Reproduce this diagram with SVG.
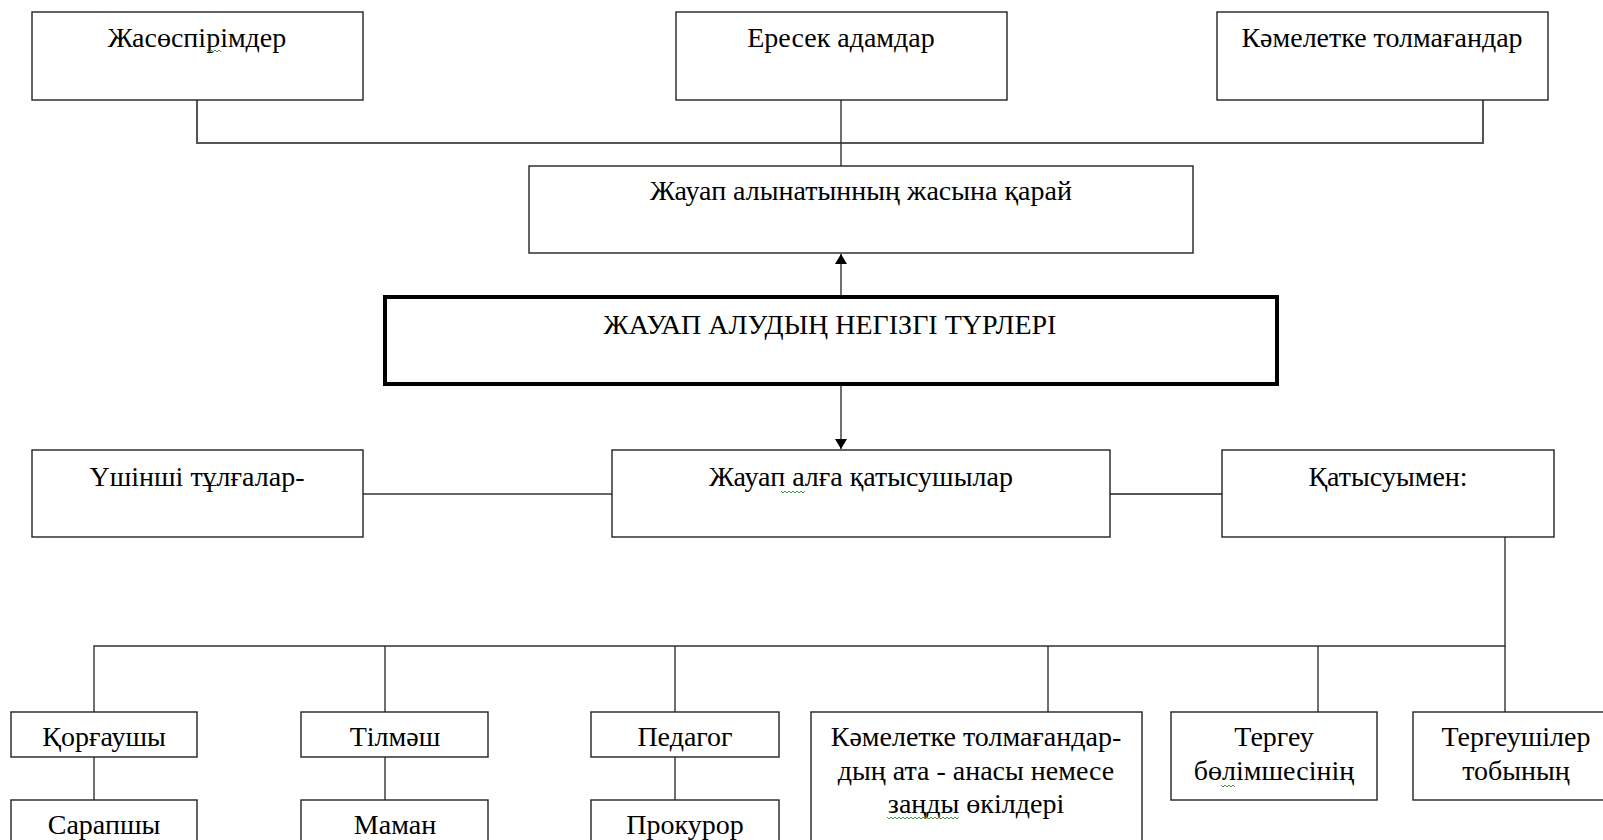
<svg xmlns="http://www.w3.org/2000/svg" width="1603" height="840" viewBox="0 0 1603 840">
<defs>
<style>
.b{fill:#fff;stroke:#222;stroke-width:1.4}
.m{fill:#fff;stroke:#000;stroke-width:4}
.t{font-family:"Liberation Serif","Times New Roman",serif;font-size:28px;fill:#000;text-anchor:middle}
.c{fill:none;stroke:#333;stroke-width:1.4}
.c2{fill:none;stroke:#555;stroke-width:2}
.sq{fill:none;stroke:#3a9a3a;stroke-width:1}
</style>
<marker id="ah" viewBox="0 0 10 12" refX="10" refY="6" markerWidth="11" markerHeight="12" markerUnits="userSpaceOnUse" orient="auto">
<path d="M0,0 L10,6 L0,12 Z" fill="#000"/>
</marker>
</defs>
<rect width="1603" height="840" fill="#fff"/>
<g id="connectors">
<path class="c2" d="M197,100 V143 H1483 V100"/>
<path class="c" d="M841,100 V166"/>
<path class="c" d="M841,296 V254" marker-end="url(#ah)"/>
<path class="c" d="M841,384 V449" marker-end="url(#ah)"/>
<path class="c" d="M363,494 H612"/>
<path class="c2" d="M1110,494 H1224"/>
<path class="c" d="M1505,537 V646 H94 V712"/>
<path class="c" d="M385,646 V712 M675,646 V712 M1048,646 V712 M1318,646 V712 M1505,646 V712"/>
<path class="c" d="M94,757 V800 M385,757 V800 M675,757 V800"/>
</g>
<g id="n-zhasospirimder"><rect class="b" x="32" y="12" width="331" height="88"/><text class="t" x="197" y="47">Жасөспірімдер</text><path class="sq" d="M207,50 l2,2 l2,-2 l2,2 l2,-2 l2,2 l2,-2 l2,2"/></g>
<g id="n-eresek"><rect class="b" x="676" y="12" width="331" height="88"/><text class="t" x="841" y="47">Ересек адамдар</text></g>
<g id="n-kameletke"><rect class="b" x="1217" y="12" width="331" height="88"/><text class="t" x="1382" y="47">Кәмелетке толмағандар</text></g>
<g id="n-zhasyna"><rect class="b" x="529" y="166" width="664" height="87"/><text class="t" x="861" y="200">Жауап алынатынның жасына қарай</text></g>
<g id="n-main"><rect class="m" x="385" y="297" width="892" height="87"/><text class="t" x="830" y="334">ЖАУАП АЛУДЫҢ НЕГІЗГІ ТҮРЛЕРІ</text></g>
<g id="n-ushinshi"><rect class="b" x="32" y="450" width="331" height="87"/><text class="t" x="197" y="486">Үшінші тұлғалар-</text></g>
<g id="n-katysushylar"><rect class="b" x="612" y="450" width="498" height="87"/><text class="t" x="861" y="486">Жауап алға қатысушылар</text><path class="sq" d="M781,491 l2,2 l2,-2 l2,2 l2,-2 l2,2 l2,-2 l2,2 l2,-2 l2,2 l2,-2 l2,2 l2,-2"/></g>
<g id="n-katysuymen"><rect class="b" x="1222" y="450" width="332" height="87"/><text class="t" x="1388" y="486">Қатысуымен:</text></g>
<g id="n-korgaushy"><rect class="b" x="11" y="712" width="186" height="45"/><text class="t" x="104" y="746">Қорғаушы</text></g>
<g id="n-tilmash"><rect class="b" x="301" y="712" width="187" height="45"/><text class="t" x="395" y="746">Тілмәш</text></g>
<g id="n-pedagog"><rect class="b" x="591" y="712" width="188" height="45"/><text class="t" x="685" y="746">Педагог</text></g>
<g id="n-ata-ana"><rect class="b" x="811" y="712" width="331" height="140"/><text class="t" x="976" y="746">Кәмелетке толмағандар-</text><text class="t" x="976" y="780">дың ата - анасы немесе</text><text class="t" x="976" y="813">заңды өкілдері</text><path class="sq" d="M887,817 l2,2 l2,-2 l2,2 l2,-2 l2,2 l2,-2 l2,2 l2,-2 l2,2 l2,-2 l2,2 l2,-2 l2,2 l2,-2 l2,2 l2,-2 l2,2 l2,-2 l2,2 l2,-2 l2,2 l2,-2 l2,2 l2,-2 l2,2 l2,-2 l2,2 l2,-2 l2,2 l2,-2 l2,2 l2,-2 l2,2 l2,-2 l2,2 l2,-2"/></g>
<g id="n-tergeu"><rect class="b" x="1171" y="712" width="206" height="88"/><text class="t" x="1274" y="746">Тергеу</text><text class="t" x="1274" y="780">бөлімшесінің</text><path class="sq" d="M1221,785 l2,2 l2,-2 l2,2 l2,-2 l2,2 l2,-2 l2,2"/></g>
<g id="n-tergeushiler"><rect class="b" x="1413" y="712" width="200" height="88"/><text class="t" x="1516" y="746">Тергеушілер</text><text class="t" x="1516" y="780">тобының</text></g>
<g id="n-sarapshy"><rect class="b" x="11" y="800" width="186" height="60"/><text class="t" x="104" y="834">Сарапшы</text></g>
<g id="n-maman"><rect class="b" x="301" y="800" width="187" height="60"/><text class="t" x="395" y="834">Маман</text></g>
<g id="n-prokuror"><rect class="b" x="591" y="800" width="188" height="60"/><text class="t" x="685" y="834">Прокурор</text></g>
</svg>
